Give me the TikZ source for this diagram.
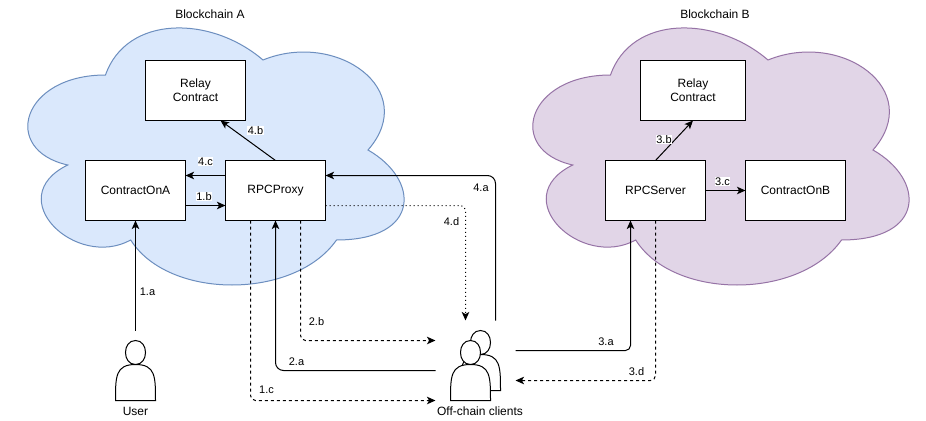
\documentclass[tikz,border=0pt]{standalone}
\usepackage{fontspec}
\setmainfont{Liberation Sans}
\usetikzlibrary{arrows.meta}
\tikzset{
  x=0.75pt,y=-0.75pt,
  every node/.style={font=\fontsize{9}{10.5}\selectfont},
  boxnode/.style={draw=black,fill=white,line width=0.75pt,minimum width=75pt,minimum height=45pt,inner sep=0pt,outer sep=0pt,align=center},
  plain/.style={inner sep=0pt},
  lbl/.style={font=\fontsize{8.25}{9.5}\selectfont,inner sep=0.4pt},
  lblw/.style={lbl,fill=white},
  conn/.style={draw=black,line width=0.75pt,-{Stealth[length=6.4pt,width=5.6pt,inset=1.6pt]},rounded corners=3.75pt},
  dashconn/.style={conn,dash pattern=on 2.25pt off 2.25pt},
  dotconn/.style={conn,dash pattern=on 0.75pt off 2.25pt},
  cloudA/.style={draw=cloudAline,fill=cloudAfill,line width=0.75pt},
  cloudB/.style={draw=cloudBline,fill=cloudBfill,line width=0.75pt},
  actorshape/.style={draw=black,fill=white,line width=0.75pt},
}
\definecolor{cloudAfill}{HTML}{DAE8FC}
\definecolor{cloudAline}{HTML}{6C8EBF}
\definecolor{cloudBfill}{HTML}{E1D5E7}
\definecolor{cloudBline}{HTML}{9673A6}
\newcommand{\cloudpath}[2]{%
  \path[#2,shift={(#1,0)}] (105,75) .. controls (21,75) and (0,150) .. (67.2,165)
    .. controls (0,198) and (75.6,270) .. (130.2,240)
    .. controls (168,300) and (294,300) .. (336,240)
    .. controls (420,240) and (420,180) .. (367.5,150)
    .. controls (420,90) and (336,30) .. (262.5,60)
    .. controls (210,15) and (126,15) .. (105,75) -- cycle;}
\newcommand{\actorpath}[2]{%
  \path[actorshape,shift={(#1,#2)}] (0,60) .. controls (0,36) and (0,24) .. (20,24)
    .. controls (6.67,24) and (6.67,0) .. (20,0)
    .. controls (33.33,0) and (33.33,24) .. (20,24)
    .. controls (40,24) and (40,36) .. (40,60) -- cycle;}
\begin{document}
\begin{tikzpicture}
\useasboundingbox[fill=white] (0,0) rectangle (926,421);
\cloudpath{0.5}{cloudA}
\cloudpath{505.5}{cloudB}
\node[plain] (titleA) at (210,14) {Blockchain A};
\node[plain] (titleB) at (715,14) {Blockchain B};

\node[boxnode] (relayA) at (195.5,90.5) {Relay\\Contract};
\node[boxnode] (contractA) at (135.5,190.5) {ContractOnA};
\node[boxnode] (proxy) at (275.5,190.5) {RPCProxy};
\node[boxnode] (relayB) at (693,90.5) [minimum width=78.75pt] {Relay\\Contract};
\node[boxnode] (server) at (655.5,190.5) {RPCServer};
\node[boxnode] (contractB) at (795.5,190.5) {ContractOnB};

\actorpath{115.5}{340.5}
\actorpath{460.5}{330.5}
\actorpath{450.5}{340.5}
\node[plain] (user) at (135.5,411) {User};
\node[plain] (clients) at (480,411) {Off-chain clients};

\coordinate (userTop) at (135.5,330.5);
\coordinate (c1c) at (435.5,400.5);
\coordinate (c2a) at (435.5,370.5);
\coordinate (c2b) at (435.5,340.5);
\coordinate (c3a) at (515.5,350.5);
\coordinate (c3d) at (515.5,380.5);
\coordinate (c4a) at (495.5,320.5);
\coordinate (c4d) at (465.5,320.5);
\coordinate (relayAin) at (220.5,120.5);
\coordinate (relayBin) at (693,120.5);

\draw[conn] (userTop) -- (contractA.south);
\draw[conn] ([yshift=-11.25pt]contractA.east) -- ([yshift=-11.25pt]proxy.west);
\draw[conn] ([yshift=11.25pt]proxy.west) -- ([yshift=11.25pt]contractA.east);
\draw[conn] (proxy.north) -- (relayAin);
\draw[conn,rounded corners=6pt] (c4a) |- ([yshift=11.25pt]proxy.east);
\draw[conn,rounded corners=6pt] (c2a) -| (proxy.south);
\draw[dashconn] ([xshift=18.75pt]proxy.south) |- (c2b);
\draw[dashconn] ([xshift=-18.75pt]proxy.south) |- (c1c);
\draw[dotconn] ([yshift=-11.25pt]proxy.east) -| (c4d);
\draw[conn] (c3a) -| ([xshift=-18.75pt]server.south);
\draw[conn] (server.north) -- (relayBin);
\draw[conn] (server.east) -- (contractB.west);
\draw[dashconn] (server.south) |- (c3d);

\node[lbl]  (l1a) at (147.5,291.5) {1.a};
\node[lblw] (l1b) at (204,196.5) {1.b};
\node[lbl]  (l1c) at (266.5,389.5) {1.c};
\node[lbl]  (l2a) at (296.5,361.5) {2.a};
\node[lbl]  (l2b) at (316.5,321.5) {2.b};
\node[lbl]  (l3a) at (606,341.5) {3.a};
\node[lblw] (l3b) at (664,139.5) {3.b};
\node[lblw] (l3c) at (722.5,181.5) {3.c};
\node[lbl]  (l3d) at (636.5,371.5) {3.d};
\node[lblw] (l4a) at (481,187.5) {4.a};
\node[lblw] (l4b) at (255.5,130.5) {4.b};
\node[lblw] (l4c) at (205.5,161.5) {4.c};
\node[lblw] (l4d) at (451.5,221.5) {4.d};
\end{tikzpicture}
\end{document}
